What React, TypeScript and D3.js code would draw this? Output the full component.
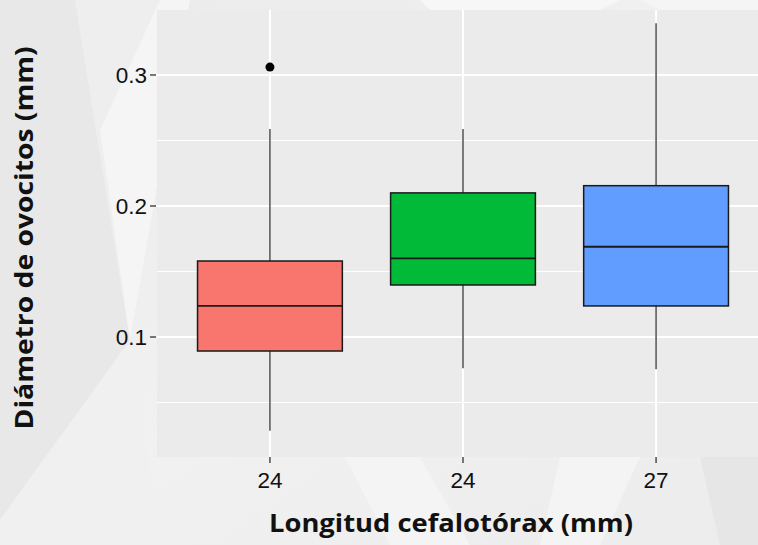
import React from "react";
import * as d3 from "d3";

const groups = ["g1", "g2", "g3"];
const tickLabels = ["24", "24", "27"];
const colors = ["#F8766D", "#00BA38", "#619CFF"];
const lowerWhisker = [0.0285, 0.0761, 0.0753];
const q1 = [0.0893, 0.1397, 0.1237];
const median = [0.1237, 0.160, 0.1689];
const q3 = [0.158, 0.21, 0.2155];
const upperWhisker = [0.2588, 0.2588, 0.3395];
const outliers = [[0.306], [], []];
const yMajor = [0.1, 0.2, 0.3];
const yMinor = [0.05, 0.15, 0.25];

const W = 758;
const H = 545;
const panel = { left: 157, top: 10, right: 769, bottom: 457 };

export default function App() {
  const x = d3.scalePoint<string>().domain(groups).range([panel.left, panel.right]).padding(0.585);
  const y = d3.scaleLinear().domain([0.0084, 0.3496]).range([panel.bottom, panel.top]);
  const boxW = x.step() * 0.75;

  return (
    <svg width={W} height={H} style={{ position: "absolute", left: 0, top: 0 }}>
      <defs>
        <linearGradient id="bg" x1="0" y1="0" x2="1" y2="1">
          <stop offset="0" stopColor="#eaeaea" />
          <stop offset="0.5" stopColor="#f1f1f1" />
          <stop offset="1" stopColor="#ececec" />
        </linearGradient>
        <clipPath id="clip">
          <rect x={0} y={0} width={W} height={H} />
        </clipPath>
      </defs>
      <rect x={0} y={0} width={W} height={H} fill="url(#bg)" />
      {/* subtle geometric background */}
      <polygon points="0,0 75,0 130,340 0,520" fill="#e8e8e8" />
      <polygon points="75,0 190,0 130,340" fill="#eeeeee" />
      <polygon points="130,340 190,0 160,0 100,130" fill="#f6f6f6" opacity={0.8} />
      <polygon points="0,520 130,340 160,545 0,545" fill="#f0f0f0" />
      <polygon points="345,457 420,457 470,545 390,545" fill="#f4f4f4" />
      <polygon points="560,457 640,457 600,545 540,545" fill="#f4f4f4" />
      <polygon points="700,457 758,457 758,545 720,545" fill="#e6e6e6" />
      <polygon points="420,0 620,0 600,10 430,10" fill="#f7f7f7" />
      <polygon points="640,0 758,0 758,10 660,10" fill="#f5f5f5" />

      <g clipPath="url(#clip)">
        <rect x={panel.left} y={panel.top} width={panel.right - panel.left} height={panel.bottom - panel.top} fill="#ebebeb" />
        {yMinor.map((v) => (
          <line key={"mi" + v} x1={panel.left} x2={panel.right} y1={y(v)} y2={y(v)} stroke="#fff" strokeWidth={1.2} />
        ))}
        {yMajor.map((v) => (
          <line key={"ma" + v} x1={panel.left} x2={panel.right} y1={y(v)} y2={y(v)} stroke="#fff" strokeWidth={2} />
        ))}
        {groups.map((g) => (
          <line key={"vx" + g} x1={x(g)} x2={x(g)} y1={panel.top} y2={panel.bottom} stroke="#fff" strokeWidth={2} />
        ))}

        {groups.map((g, i) => {
          const cx = x(g) as number;
          return (
            <g key={"box" + g}>
              <line x1={cx} x2={cx} y1={y(upperWhisker[i])} y2={y(q3[i])} stroke="#333" strokeWidth={1.3} />
              <line x1={cx} x2={cx} y1={y(q1[i])} y2={y(lowerWhisker[i])} stroke="#333" strokeWidth={1.3} />
              <rect x={cx - boxW / 2} y={y(q3[i])} width={boxW} height={y(q1[i]) - y(q3[i])} fill={colors[i]} stroke="#1a1a1a" strokeWidth={1.5} />
              <line x1={cx - boxW / 2} x2={cx + boxW / 2} y1={y(median[i])} y2={y(median[i])} stroke="#1a1a1a" strokeWidth={1.8} />
              {outliers[i].map((o, j) => (
                <circle key={j} cx={cx} cy={y(o)} r={4.5} fill="#000" />
              ))}
            </g>
          );
        })}
      </g>

      {/* y axis */}
      {yMajor.map((v) => (
        <g key={"yt" + v}>
          <line x1={150} x2={156} y1={y(v)} y2={y(v)} stroke="#333" strokeWidth={1.3} />
          <text x={147} y={y(v)} dy="0.36em" textAnchor="end" fontFamily="'Liberation Sans', Arial, sans-serif" fontSize={22.5} fill="#111">
            {d3.format(".1f")(v)}
          </text>
        </g>
      ))}
      {/* x axis */}
      {groups.map((g, i) => (
        <g key={"xt" + g}>
          <line x1={x(g)} x2={x(g)} y1={457} y2={463} stroke="#333" strokeWidth={1.3} />
          <text x={x(g)} y={488} textAnchor="middle" fontFamily="'Liberation Sans', Arial, sans-serif" fontSize={22.5} fill="#111">
            {tickLabels[i]}
          </text>
        </g>
      ))}

      <text x={451} y={532} textAnchor="middle" fontFamily="'Open Sans', sans-serif" fontWeight={700} fontSize={25} fill="#111" textLength={364} lengthAdjust="spacingAndGlyphs">
        Longitud cefalotórax (mm)
      </text>
      <text transform="translate(33,238) rotate(-90)" textAnchor="middle" fontFamily="'Open Sans', sans-serif" fontWeight={700} fontSize={25} fill="#111" textLength={383} lengthAdjust="spacingAndGlyphs">
        Diámetro de ovocitos (mm)
      </text>
    </svg>
  );
}
